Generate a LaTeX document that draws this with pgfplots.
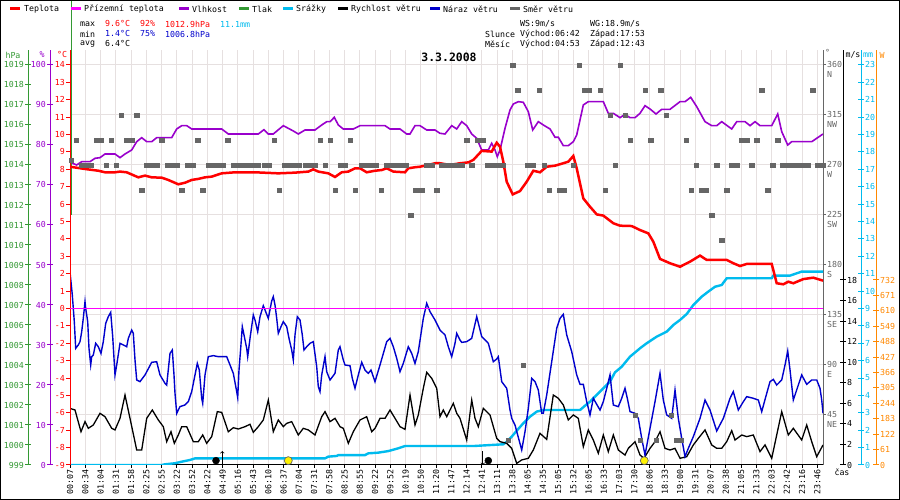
\documentclass[border=0pt]{standalone}
\usepackage{fontspec}
\usepackage{pgfplots}
\pgfplotsset{compat=1.18}
\newfontfamily\px{DejaVu Sans Mono}
\newcommand{\fs}{\px\fontsize{8.3}{9.6}\selectfont}
\definecolor{cT}{HTML}{FF0000}
\definecolor{cG}{HTML}{FF00FF}
\definecolor{cH}{HTML}{9900CC}
\definecolor{cP}{HTML}{339933}
\definecolor{cR}{HTML}{00BBEE}
\definecolor{cB}{HTML}{0000CC}
\definecolor{cD}{HTML}{666666}
\definecolor{cO}{HTML}{FF8800}
\definecolor{cGrid}{HTML}{E6E0E0}
\pgfplotsset{
 base/.style={scale only axis, width=753bp, height=415bp, at={(70bp,35bp)}, anchor=south west, xmin=0, xmax=753},
 sc/.style={scale only axis, width=1bp, height=415bp, anchor=south west, xmin=0, xmax=1, hide x axis,
   y axis line style={#1, line width=1bp}, ytick style={#1, line width=1bp},
   yticklabel style={text=#1, font=\fs, inner sep=1bp}, ytick align=center, major tick length=6bp},
}
\begin{document}
\begin{tikzpicture}[x=1bp,y=1bp]
\useasboundingbox (0,0) rectangle (900,500);
\fill[white] (0,0) rectangle (900,500);

% ---- direction axis: grid, x ticks, right degree scale
\begin{axis}[base, ymin=0, ymax=373.5,
  axis x line*=bottom, axis y line*=right,
  x axis line style={black, line width=1bp}, y axis line style={cD, line width=1bp},
  xtick={0,15.25,...,748},
  xticklabels={00:07,00:34,01:04,01:31,01:58,02:25,02:55,03:22,03:52,04:22,04:49,05:16,05:43,06:10,06:37,07:04,07:31,07:58,08:25,08:55,09:22,09:52,10:19,10:50,11:20,11:47,12:14,12:41,13:11,13:38,14:05,14:35,15:05,15:32,16:05,16:33,17:03,17:30,18:06,18:33,19:00,19:31,20:07,20:38,21:05,21:33,22:03,22:42,23:16,23:46},
  xticklabel style={rotate=90, anchor=east, font=\fs, inner sep=1.5bp},
  xtick align=outside, xtick style={black, line width=1bp},
  ytick={45,90,...,360},
  yticklabels={{45\\NE},{90\\E},{135\\SE},{180\\S},{225\\SW},{270\\W},{315\\NW},{360\\N}},
  yticklabel style={font=\fs, text=cD, align=left, anchor=north west, yshift=4.5bp, inner sep=1bp},
  ytick align=outside, ytick style={cD, line width=1bp}, major tick length=3bp,
  xmajorgrids, ymajorgrids, grid style={cGrid, line width=1bp},
]
\end{axis}

% ---- left scales
\begin{axis}[sc=cP, at={(28bp,35bp)}, axis y line*=left, ymin=999, ymax=1019.75,
  ytick={999,1000,...,1019},
  yticklabels={999,1000,1001,1002,1003,1004,1005,1006,1007,1008,1009,1010,1011,1012,1013,1014,1015,1016,1017,1018,1019}]
\end{axis}
\begin{axis}[sc=cH, at={(50bp,35bp)}, axis y line*=left, ymin=0, ymax=103.75,
  ytick={0,10,...,100}, yticklabels={0,10,20,30,40,50,60,70,80,90,100}]
\end{axis}

% ---- right scales
\begin{axis}[sc=black, at={(842bp,35bp)}, axis y line*=right, ymin=0, ymax=40.38,
  ytick={0,2,...,18}, yticklabels={0,2,4,6,8,10,12,14,16,18}]
\end{axis}
\begin{axis}[sc=cR, at={(860bp,35bp)}, axis y line*=right, ymin=0, ymax=23.8625,
  ytick={0,1,...,23}, yticklabels={0,1,2,3,4,5,6,7,8,9,10,11,12,13,14,15,16,17,18,19,20,21,22,23}]
\end{axis}
\begin{axis}[sc=cO, at={(875bp,35bp)}, axis y line*=right, ymin=0, ymax=1642.1,
  ytick={0,61,...,732}, yticklabels={0,61,122,183,244,305,366,427,488,549,610,671,732}]
\end{axis}

% ---- precipitation (mm)
\begin{axis}[base, hide axis, ymin=0, ymax=23.8625]
\addplot[cR, line width=2.4bp] coordinates {
(0,0)(91.7,0)(95,0.04)(105,0.1)(111.7,0.19)(120,0.29)(125,0.38)(148.3,0.38)(255,0.38)(258.3,0.48)(266.7,0.52)(268.3,0.57)(295,0.57)(298.3,0.67)(308.3,0.71)(318.3,0.8)(328.3,0.96)(335,1.09)
(370,1.09)(403.3,1.09)(433.3,1.19)(436.7,1.34)(441.7,1.63)(446.7,1.97)(453.3,2.40)(460,2.78)(466.7,3.07)(473.3,3.16)(510,3.16)(515,3.41)(520,3.64)(526.7,4.03)(533.3,4.41)(540,4.79)(545,5.33)(551.7,5.65)(560,6.23)(570,6.71)(576.7,7.00)(586.7,7.38)(596.7,7.67)(603.3,8.05)(610,8.34)(616.7,8.68)(623.3,9.20)(631.7,9.68)(638.3,9.97)(645,10.25)(651.7,10.35)(656.7,10.74)(701.7,10.74)(703.3,10.89)(720,10.89)(731.7,11.12)(753,11.12)};
\end{axis}

% ---- wind speed and gusts (m/s)
\begin{axis}[base, hide axis, ymin=0, ymax=40.38]
\addplot[black, line width=1.3bp] coordinates {
(0,5.51)(5,5.35)(11,3.24)(15,4.22)(18.3,3.57)(23.3,3.89)(30,5.03)(35,4.70)(41.7,3.57)(45,3.41)(50,4.54)(55,6.81)(60,4.54)(66.7,1.46)(71.7,1.46)(76.7,4.54)(82.3,5.35)(88.3,4.38)(93.3,3.73)(96.7,2.27)(101,3.24)(104.3,2.11)(108.3,2.92)(111.7,3.73)(116.7,3.73)(123.3,2.27)(128.3,2.27)(132.7,2.92)(136.7,2.11)(141.7,2.76)(147.3,5.19)(151.7,5.12)(158.3,3.24)(163.3,3.63)(168.3,3.50)(175,3.73)(180,3.96)(183.3,3.18)(188.3,3.73)(193.3,4.38)(198.3,6.32)(203.3,3.24)(208.3,4.38)(213.3,3.73)(216.7,4.05)(221.7,4.22)(228.3,2.92)(233.3,3.57)(238.3,3.41)(245,2.92)(251.7,4.70)(255,5.19)(260,4.22)(265,4.54)(270,3.73)(273.3,3.57)(278.3,2.11)(283.3,3.24)(290,4.38)(296.7,4.70)(301.7,3.24)(305,3.57)(310,4.54)(315,4.54)(320,5.35)(325,4.54)(330,3.73)(335,3.47)(340,6.81)(345,3.89)(348.3,4.87)(353.3,7.46)(356.7,9.02)(361.7,8.43)(366.7,7.46)
(370,4.70)(373.3,5.35)(376.7,4.70)(383.3,6.00)(386.7,5.03)(390,4.54)(396.7,2.43)(401.7,6.32)(405,4.54)(408.3,3.73)(413.3,5.51)(420,4.87)(426.7,2.59)(430,2.27)(436.7,2.11)(441.7,1.62)(446.7,0.16)(451.7,0.49)(458.3,0.65)(463.3,1.46)(470,3.08)(476.7,2.49)(483.3,6.81)(488.3,6.49)(493.3,5.84)(498.3,4.38)(503.3,4.87)(508.3,4.54)(513.3,1.78)(518.3,3.41)(523.3,2.43)(528.3,1.14)(533.3,2.92)(538.3,1.30)(543.3,2.92)(548.3,1.46)(555,0.97)(558.3,1.62)(565,2.27)(570,0.97)(574,0.65)(580,1.62)(585,2.27)(590,3.24)(595,1.62)(600,1.46)(605,1.62)(610,0.65)(616.7,0.81)(623.3,1.95)(628.3,2.59)(635,3.41)(641.7,1.95)(646.7,1.62)(651.7,1.62)(656.7,2.27)(661.7,3.34)(665,2.43)(671.7,2.92)(676.7,2.76)(683.3,2.92)(690,1.30)(695,1.95)(701.7,0.65)(706.7,2.92)(711.7,5.19)(718.3,2.92)(723.3,3.57)(731.7,2.43)(736.7,3.89)(741.7,2.27)(746.7,0.81)(753,1.95)};
\addplot[cB, line width=1.4bp] coordinates {
(0,18.8)(2.3,16.54)(4.3,13.95)(5.7,11.35)(8.3,11.68)(10,12.00)(11.7,12.97)(13.3,14.27)(15,15.89)(15.7,15.24)(17.7,13.95)(19,11.35)(20.7,9.73)(21.7,10.54)(23.3,10.70)(25.7,11.84)(28.3,11.51)(31,10.86)(33.3,12.00)(35.7,13.78)(38.3,14.43)(40.7,14.85)(42.7,12.49)(45,8.76)(46.7,9.73)(50,11.84)(53.3,11.68)(56.7,11.51)(58.3,12.32)(61.7,13.13)(63.3,12.81)(65,10.22)(66.7,8.27)(70,8.11)(75,8.76)(81.7,9.99)(86.7,10.05)(90,8.76)(95,7.95)(96.7,7.78)(100,10.86)(102.3,11.19)(104,8.76)(105,6.97)(106.7,5.03)(110,5.68)(115,5.84)(118.3,6.16)(121.7,7.14)(125,8.76)(127.3,9.89)(129.3,9.24)(131.7,6.49)(132.7,6.00)(135,8.76)(138.3,10.54)(143.3,10.64)(148.3,10.54)(156.7,10.54)(160,9.73)(163.3,8.92)(166.7,7.14)(167.7,6.55)(169,9.24)(170.7,11.35)(172.3,13.46)(174,12.65)(176.7,11.35)(177.7,10.54)(180,12.32)(183.3,14.59)(185,14.11)(187.7,12.97)(190,14.43)(193.3,15.50)(195,15.08)(198.3,14.27)(201.7,15.96)(203.3,16.38)(205,15.57)(206.7,14.27)(208.3,12.81)(211,13.46)(213.3,13.95)(216.7,13.46)(219,12.32)(221.7,11.19)(223.3,10.22)(225,12.65)(227.3,14.43)(230,14.11)(232.3,12.65)(234,11.19)(236.7,11.51)(240,11.84)(243.3,12.00)(246.7,9.57)(248.3,7.62)(250,7.14)(251.7,8.76)(255,10.54)(256.7,9.08)(260,8.27)(265,8.92)(268.3,11.19)(270,11.51)(273.3,10.22)(275,9.73)(280,9.66)(282.3,8.43)(285,7.46)(288.3,8.76)(291.7,9.99)(295,9.24)(298.3,8.92)(301,9.24)(305,8.11)(310,9.73)(316.7,12.00)(320,12.32)(323.3,11.51)(326.7,10.38)(330,9.08)(333.3,9.89)(338.3,11.51)(341.7,10.86)(345,9.89)(348.3,11.03)(353.3,14.27)(356.7,15.73)(360,14.92)(365,14.11)
(370,13.13)(375,12.65)(378.3,11.51)(381.7,10.54)(385,11.84)(386.7,12.81)(390,12.16)(391.7,11.93)(396.7,12.00)(401.7,12.32)(406.7,14.43)(411.7,12.49)(418.3,11.84)(423.3,10.05)(426.7,10.31)(428.3,10.54)(431.7,8.11)(436.7,7.46)(440,5.35)(441.7,4.54)(445,3.89)(451.7,1.46)(455,3.24)(458.3,5.51)(461.7,8.43)(465,8.11)(468.3,7.30)(471.7,5.03)(473.3,5.03)(476.7,6.81)(481.7,10.05)(486.7,13.30)(490,14.27)(493.3,14.66)(496.7,12.65)(501.7,11.03)(506.7,8.76)(510,7.85)(513.3,7.85)(516.7,6.16)(520,4.87)(523.3,6.49)(526.7,5.90)(530,5.35)(533.3,6.16)(536.7,7.46)(540,8.76)(543.3,5.84)(548.3,5.68)(551.7,6.49)(555,7.46)(557.3,6.49)(560,5.19)(565,5.03)(568.3,4.54)(571.7,2.59)(575,0.97)(580,3.57)(585,6.16)(590,8.92)(593.3,6.32)(596.7,4.87)(601.7,4.54)(605,7.30)(608.3,4.54)(611.7,2.59)(615,0.81)(618.3,1.62)(623.3,2.76)(630,4.54)(635,6.32)(640,5.35)(646.7,3.31)(653.3,4.54)(660,6.49)(663.3,7.14)(668.3,5.35)(673.3,6.16)(676.7,6.65)(683.3,6.49)(688.3,6.32)(691.7,5.19)(696.7,6.97)(700,8.11)(703.3,8.33)(706.7,7.78)(711.7,8.27)(715,9.73)(717.7,11.09)(720,9.24)(723.3,6.32)(728.3,7.78)(731.7,8.76)(736.7,7.85)(741.7,8.27)(746.7,8.27)(750,7.46)(751.7,6.32)(753,5.03)};
\end{axis}

% ---- humidity (%)
\begin{axis}[base, hide axis, ymin=0, ymax=103.75]
\addplot[cH, line width=1.6bp] coordinates {
(0,75.67)(6.7,75)(11.7,75.83)(20,75.83)(25,76.67)(30,76.83)(35,77.75)(45,77.75)(50,76.83)(55,77.75)(61.7,78.75)(66.7,80.83)(71.7,81.83)(76.7,80.83)(81.7,80.83)(86.7,81.83)(101.7,81.83)(106.7,84)(111.7,84.83)(116.7,84.83)(121.7,84)(151.7,84)(158.3,82.75)(188.3,82.75)(194,83.83)(198.3,82.75)(203.3,82.75)(213.3,84.83)(223.3,83.5)(228.3,82.75)(235,83.75)(245,83.75)(251.7,85)(256.7,85.83)(260,85.83)(264.3,86.92)(268.3,85)(273.3,84)(283.3,84)(290,84.83)(315,84.83)(320,84)(330,84)(336.7,82.75)(340,82.75)(345,84.83)(350,84.83)(356.7,83.75)(365,83.75)
(370,82.92)(375,82.75)(381.7,84.83)(386.7,84)(391.7,85.83)(396.7,84.83)(401.7,82.75)(406.7,81.67)(411.7,78.75)(418.3,78.75)(421.7,80.42)(425,78.75)(427.3,77.08)(430,78.75)(435,84.17)(440,88.75)(443.3,90.25)(448.3,90.83)(453.3,90.67)(458.3,88.33)(462.7,83.75)(468.3,85.83)(473.3,85)(480,84)(485,81.94)(488.3,81.94)(493.3,79.83)(498.3,79.83)(503.3,80.83)(506.7,82.5)(513.3,90)(518.3,90.83)(533.3,90.83)(538.3,87.92)(543.3,87.92)(550,86.83)(555,87.67)(560,86.83)(565,86.83)(570,87.92)(575,89.83)(580,89)(586,87.75)(591.7,88.92)(600,88.92)(610,90.83)(615,90.83)(620.7,91.92)(626.7,89.58)(635,85.83)(641.7,84.83)(646.7,84.83)(651.7,85.83)(661.7,84)(666.7,85.83)(675,85.83)(680,84.83)(685,85.83)(690,84.83)(701.7,84.83)(707.7,87.75)(711.7,83.33)(717.7,80)(721.7,80.83)(741.7,80.83)(746.7,81.67)(753,82.75)};
\end{axis}

% ---- pressure (hPa): only a vertical stroke at the start
\begin{axis}[base, hide axis, ymin=999, ymax=1019.75, clip=false]
\addplot[cP, line width=1bp] coordinates {(1,1011.5)(1,1022.2)};
\end{axis}

% ---- temperature axis (red scale) and data
\begin{axis}[base, ymin=-9, ymax=14.8625, axis x line=none, axis y line*=left,
  y axis line style={cT, line width=1bp}, ytick style={cT, line width=1bp},
  ytick={-9,-8,...,14},
  yticklabels={-9,-8,-7,-6,-5,-4,-3,-2,-1,0,1,2,3,4,5,6,7,8,9,10,11,12,13,14},
  yticklabel style={text=cT, font=\fs, inner sep=1bp},
  ytick align=outside, major tick length=4bp]
\addplot[cG, line width=1bp] coordinates {(0,0)(753,0)};
\addplot[cT, line width=2.5bp] coordinates {
(0,8.15)(15,8.02)(28.3,7.92)(35,7.83)(45,7.83)(50,7.87)(56.7,7.83)(68.3,7.54)(75,7.64)(81.7,7.54)(91.7,7.52)(98.3,7.39)(108.3,7.14)(115,7.23)(121.7,7.39)(128.3,7.45)(135,7.54)(141.7,7.58)(151.7,7.77)(165,7.83)(185,7.83)(208.3,7.77)(225,7.81)(238.3,7.87)(243.3,8.00)(248.3,7.87)(258.3,7.77)(265,7.56)(271.7,7.83)(278.3,7.87)(285,8.06)(290,8.06)(296.7,7.83)(305,7.92)(311.7,7.96)(316.7,8.06)(323.3,7.87)(335,7.83)(338.3,8.06)(345,8.12)(350,8.15)(358.3,8.25)(365,8.35)
(370,8.35)(380,8.25)(390,8.35)(398.3,8.40)(403.3,8.54)(411.7,9.06)(421.7,9.02)(426.7,9.53)(430,9.30)(433.3,8.44)(436.7,7.29)(442.7,6.56)(450,6.75)(456.7,7.29)(463.3,7.92)(470,7.83)(476.7,8.15)(485,8.21)(493.3,8.35)(498.3,8.44)(503.3,8.77)(506.7,8.06)(513.3,6.33)(520,5.85)(526.7,5.41)(533.3,5.34)(543.3,4.90)(550,4.76)(561.7,4.74)(570,4.51)(578.3,4.32)(583.3,3.84)(590,2.85)(600,2.60)(610,2.40)(620,2.69)(630,3.04)(636.7,2.79)(656.7,2.79)(663.3,2.60)(670,2.44)(676.7,2.56)(701.7,2.56)(706.7,1.45)(713.3,1.39)(718.3,1.54)(723.3,1.45)(733.3,1.69)(743.3,1.77)(753,1.60)};
% sun and moon rise/set markers
\addplot[->, black, line width=0.7bp] coordinates {(152.3,-9)(152.3,-8.2)};
\addplot[->, black, line width=0.7bp] coordinates {(412.7,-8.2)(412.7,-9)};
\addplot[only marks, mark=*, mark size=3.5bp, black] coordinates {(146,-8.75)(418.3,-8.75)};
\addplot[only marks, mark=*, mark size=4bp, mark options={fill=yellow, draw=black!60, line width=0.7bp}] coordinates {(218.3,-8.75)(574.3,-8.75)};
\end{axis}

% ---- wind direction squares
\begin{axis}[base, hide axis, ymin=0, ymax=373.5]
\addplot[only marks, mark=square*, mark size=2.1bp, cD, mark options={draw=none, fill=cD}] coordinates {
(51,315)(66.7,315)
(6,292.5)(26,292.5)(31,292.5)(41,292.5)(56,292.5)(61.7,292.5)(91.7,292.5)(127.7,292.5)(157.7,292.5)(204,292.5)(250,292.5)(260,292.5)(280,292.5)
(1,274)(11,270)(16,270)(21,270)(36,270)(46,270)(76.7,270)(81.7,270)(86.7,270)(97.3,270)(102.3,270)(107.3,270)(117.7,270)(122.7,270)(138.3,270)(143.3,270)(148.3,270)(153.3,270)(163.3,270)(168.3,270)(173.3,270)(178.3,270)(183.3,270)(188.3,270)(194,270)(199,270)(214,270)(219,270)(224.3,270)(229.3,270)(235,270)(240,270)(245,270)(255,270)(270,270)(275,270)(291,270)(296,270)(301,270)(306,270)(316,270)(321,270)(326,270)(331,270)(336,270)(356.7,270)(361.7,270)
(71.7,247.5)(111.7,247.5)(132.7,247.5)(209,247.5)(265,247.5)(285,247.5)(311,247.5)(345.7,247.5)(351.7,247.5)(366.7,247.5)
(340.7,225)
(442.7,360)(509,360)(550,360)
(447.7,337.5)(469,337.5)(514,337.5)(519,337.5)(530,337.5)(575,337.5)(590.7,337.5)(691.7,337.5)(742.7,337.5)
(540,315)(555,315)(596,315)
(396.7,292.5)(407.7,292.5)(412.7,292.5)(560,292.5)(580.7,292.5)(616,292.5)(671.7,292.5)(676.7,292.5)(686.7,292.5)(707.7,292.5)
(371.7,270)(376.7,270)(381.7,270)(386.7,270)(391.7,270)(401.7,270)(417.7,270)(422.7,270)(427.7,270)(432.7,270)(457.7,270)(462.7,270)(474,270)(503.3,270)(545,270)(626,270)(646.7,270)(661.7,270)(666.7,270)(681.7,270)(702.7,270)(712.7,270)(717.7,270)(722.7,270)(727.7,270)(732.7,270)(737.7,270)(747.7,270)(752.7,270)
(479,247.5)(489,247.5)(494,247.5)(535,247.5)(621,247.5)(631,247.5)(636,247.5)(656.7,247.5)(697.7,247.5)
(641.7,225)(651.7,202.5)
(453.3,90)(438.3,22.5)(570,22.5)(586,22.5)(606,22.5)(610.7,22.5)(565,45)(601,45)};
\end{axis}

% ---- unit labels
\node[font=\fs, text=cP] at (13,445) {hPa};
\node[font=\fs, text=cH] at (42,445) {\%};
\node[font=\fs, text=cT] at (62,445) {°C};
\node[font=\fs, text=cD, anchor=west, inner sep=0] at (825,448) {°};
\node[font=\fs, text=black] at (853,445) {m/s};
\node[font=\fs, text=cR] at (868,445) {mm};
\node[font=\fs, text=cO] at (882,445) {W};
\node[font=\fs, text=black] at (842,28) {čas};

% ---- title
\node[font=\px\bfseries\fontsize{11.5}{13}\selectfont] at (449,443) {3.3.2008};

% ---- legend
\begin{scope}[every node/.style={font=\fs, anchor=west, inner sep=0}]
\draw[cT, line width=3bp] (10,491) -- (20,491); \node at (24,491) {Teplota};
\draw[cG, line width=3bp] (71,491) -- (81,491); \node at (84,491) {Přízemní teplota};
\draw[cH, line width=3bp] (179,491) -- (189,491); \node at (192,491) {Vlhkost};
\draw[cP, line width=3bp] (239,491) -- (249,491); \node at (252,491) {Tlak};
\draw[cR, line width=3bp] (283,491) -- (293,491); \node at (296,491) {Srážky};
\draw[black, line width=3bp] (338,491) -- (348,491); \node at (351,491) {Rychlost větru};
\draw[cB, line width=3bp] (430,491) -- (440,491); \node at (443,491) {Náraz větru};
\draw[cD, line width=3bp] (510,491) -- (520,491); \node at (523,491) {Směr větru};
% statistics
\node at (80,476) {max}; \node[text=cT] at (105,476) {9.6°C}; \node[text=cT] at (140,476) {92\%}; \node[text=cT] at (165,476) {1012.9hPa}; \node[text=cR] at (220,476) {11.1mm};
\node at (80,466) {min}; \node[text=cB] at (105,466) {1.4°C}; \node[text=cB] at (140,466) {75\%}; \node[text=cB] at (165,466) {1006.8hPa};
\node at (80,456) {avg}; \node at (105,456) {6.4°C};
\node at (520,476) {WS:9m/s}; \node at (590,476) {WG:18.9m/s};
\node at (485,466) {Slunce}; \node at (520,466) {Východ:06:42}; \node at (590,466) {Západ:17:53};
\node at (485,456) {Měsíc}; \node at (520,456) {Východ:04:53}; \node at (590,456) {Západ:12:43};
\end{scope}

\draw[black, line width=1bp] (0.5,0.5) rectangle (899.5,499.5);
\end{tikzpicture}
\end{document}
